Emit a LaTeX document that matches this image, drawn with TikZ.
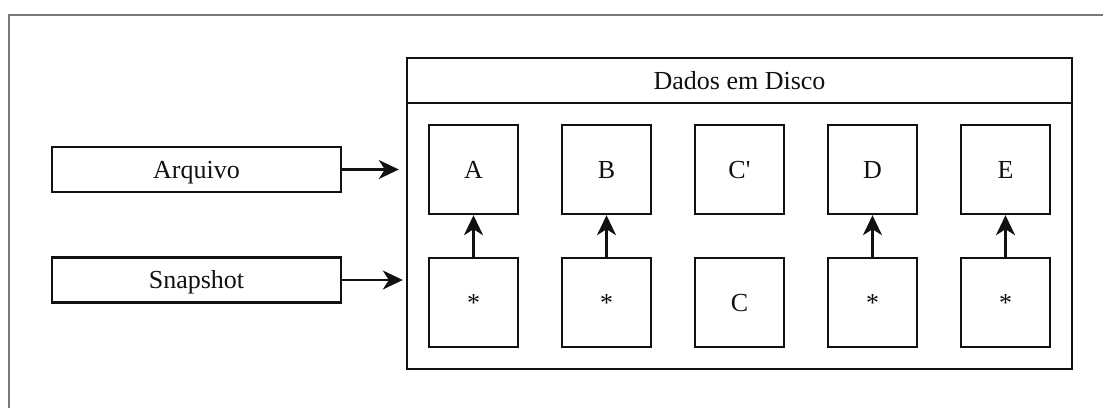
\documentclass[tikz,border=0pt]{standalone}
\usepackage{fontspec}
\setmainfont{Liberation Serif}
\usetikzlibrary{arrows.meta}
\definecolor{framegray}{RGB}{120,120,120}
\definecolor{ink}{RGB}{17,17,17}
\begin{document}
\begin{tikzpicture}[x=1pt,y=-1pt,
  every node/.style={font=\fontsize{26}{30}\selectfont, text=ink,
    text height=17.2pt, text depth=0pt},
  box/.style={draw=ink, line width=2.4pt, fill=white, inner sep=0pt},
  cell/.style={box, minimum width=89pt, minimum height=89pt},
  source/.style={box, minimum width=289pt, minimum height=45pt},
  arr/.style={draw=ink, line width=2.4pt, -{Stealth[length=20pt,width=19pt,inset=6pt]}},
  frame/.style={draw=framegray, line width=1.2pt}]
\useasboundingbox (0,0) rectangle (1103,408);
% outer frame
\draw[frame] (9,408) -- (9,15) -- (1103,15);

% disk container with its header
\node[box, minimum width=665pt, minimum height=311pt] (disk) at (739.5,213.5) {};
\node[box, minimum width=665pt, minimum height=45pt, anchor=north] (title) at (disk.north) {Dados em Disco};

% current blocks (top row)
\node[cell] (a) at (473.5,169.5) {A};
\node[cell] (b) at (606.5,169.5) {B};
\node[cell] (c2) at (739.5,169.5) {C\textquotesingle};
\node[cell] (d) at (872.5,169.5) {D};
\node[cell] (e) at (1005.5,169.5) {E};

% snapshot blocks (bottom row)
\node[cell] (sa) at (473.5,302.5) {*};
\node[cell] (sb) at (606.5,302.5) {*};
\node[cell] (c) at (739.5,302.5) {C};
\node[cell] (sd) at (872.5,302.5) {*};
\node[cell] (se) at (1005.5,302.5) {*};

% sources
\node[source] (arq) at (196.5,169.5) {Arquivo};
\node[source] (snap) at (196.5,280) {Snapshot};

% connectors
\draw[arr, shorten >=7pt] (arq) -- (arq -| disk.west);
\draw[arr, shorten >=3pt] (snap) -- (snap -| disk.west);
\draw[arr] (sa) -- (a);
\draw[arr] (sb) -- (b);
\draw[arr] (sd) -- (d);
\draw[arr] (se) -- (e);
\end{tikzpicture}
\end{document}
